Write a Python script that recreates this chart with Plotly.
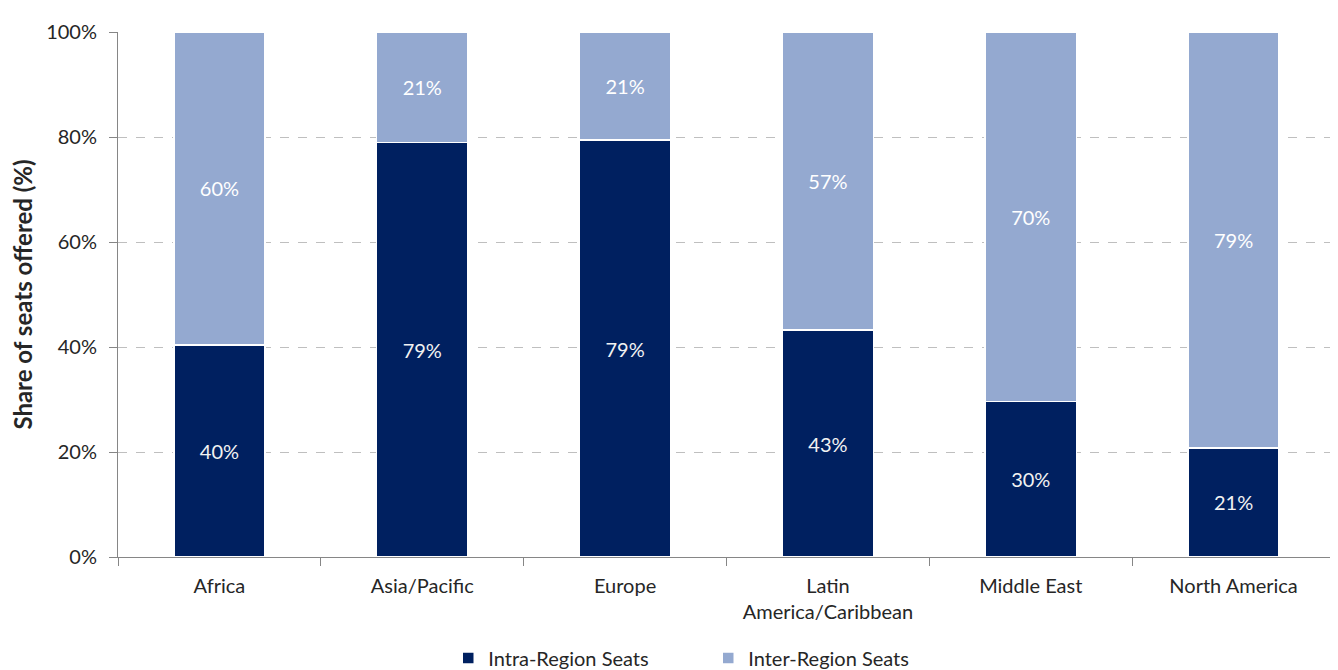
import plotly.graph_objects as go

regions = ["Africa", "Asia/Pacific", "Europe", "Latin<br>America/Caribbean", "Middle East", "North America"]
intra = [40.4, 79.0, 79.4, 43.2, 29.6, 20.8]
inter = [59.6, 21.0, 20.6, 56.8, 70.4, 79.2]
y_ticks = [0, 20, 40, 60, 80, 100]
y_ticklabels = ["0%", "20%", "40%", "60%", "80%", "100%"]

FONT = "Lato, 'Open Sans', sans-serif"
fig = go.Figure()
fig.add_trace(go.Bar(
    x=regions, y=intra, name="Intra-Region Seats",
    marker=dict(color="#002060", line=dict(color="white", width=1.5)),
    texttemplate="%{y:.0f}%", textposition="inside", insidetextanchor="middle",
    textfont=dict(color="#f2f2f2", size=20, family=FONT),
))
fig.add_trace(go.Bar(
    x=regions, y=inter, name="Inter-Region Seats",
    marker=dict(color="#94a9d0", line=dict(color="white", width=1.5)),
    texttemplate="%{y:.0f}%", textposition="inside", insidetextanchor="middle",
    textfont=dict(color="#ffffff", size=20, family=FONT),
))
fig.update_layout(
    barmode="stack", bargap=0.55,
    width=1330, height=662,
    margin=dict(l=110, r=3, t=24, b=113, autoexpand=False),
    paper_bgcolor="white", plot_bgcolor="white",
    font=dict(family=FONT, size=20, color="#262626"),
    uniformtext=dict(minsize=10, mode="show"),
    legend=dict(orientation="h", x=0.485, xanchor="center", yref="container",
                y=0.018, yanchor="middle", entrywidth=215, entrywidthmode="pixels",
                font=dict(size=20), traceorder="normal", itemwidth=30),
    xaxis=dict(showline=True, linecolor="#868686", linewidth=1, ticks="outside",
               tickson="boundaries", ticklen=8, tickcolor="#868686", automargin=False,
               tickfont=dict(size=20), showgrid=False, ticklabelstandoff=11),
    yaxis=dict(range=[0, 100], tickvals=y_ticks, ticktext=y_ticklabels,
               showline=True, linecolor="#868686", linewidth=1, automargin=False,
               ticks="outside", ticklen=8, tickcolor="#868686",
               showgrid=True, gridcolor="#bfbfbf", griddash="dash", gridwidth=1,
               tickfont=dict(size=20), ticklabelstandoff=8,
               title=dict(text="<b>Share of seats offered (%)</b>", font=dict(size=24), standoff=12)),
)
fig.write_html("out.html")
